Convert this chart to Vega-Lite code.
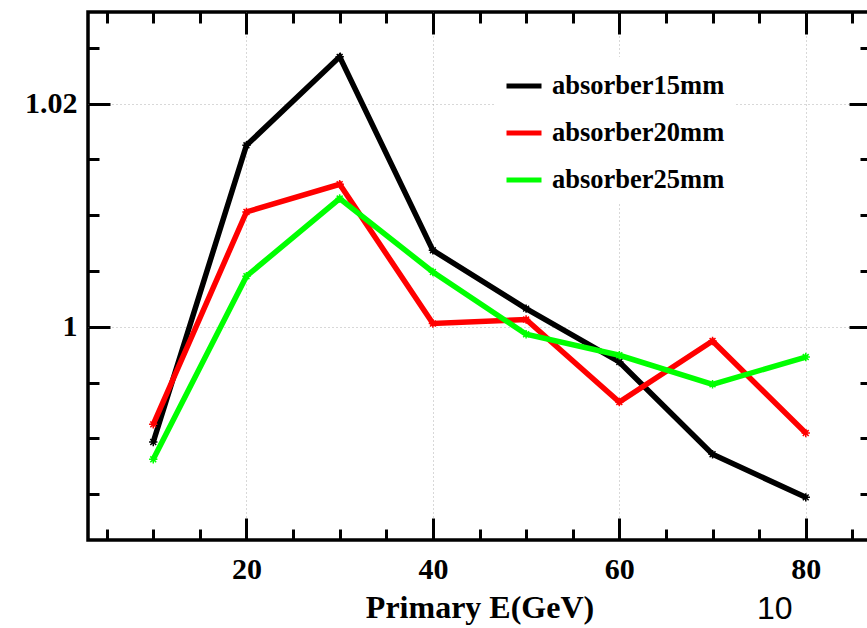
{
  "$schema": "https://vega.github.io/schema/vega-lite/v6.json",
  "width": 783,
  "height": 528,
  "autosize": "none",
  "padding": {"left": 88, "top": 12, "right": 0, "bottom": 88},
  "background": "white",
  "title": {"text": "10", "orient": "bottom", "anchor": "end", "font": "Liberation Sans", "fontSize": 32, "fontWeight": "normal", "color": "black", "dx": -80, "offset": -29},
  "config": {
    "view": {"stroke": "black", "strokeWidth": 3.5},
    "axis": {"tickColor": "black", "tickWidth": 3, "domain": false, "labelColor": "black", "titleColor": "black"}
  },
  "data": {"values": [
    {"E": 10, "ratio": 0.98968, "series": "absorber15mm"},
    {"E": 20, "ratio": 1.01626, "series": "absorber15mm"},
    {"E": 30, "ratio": 1.02418, "series": "absorber15mm"},
    {"E": 40, "ratio": 1.00685, "series": "absorber15mm"},
    {"E": 50, "ratio": 1.00163, "series": "absorber15mm"},
    {"E": 60, "ratio": 0.99685, "series": "absorber15mm"},
    {"E": 70, "ratio": 0.98858, "series": "absorber15mm"},
    {"E": 80, "ratio": 0.98472, "series": "absorber15mm"},
    {"E": 10, "ratio": 0.99126, "series": "absorber20mm"},
    {"E": 20, "ratio": 1.01029, "series": "absorber20mm"},
    {"E": 30, "ratio": 1.01277, "series": "absorber20mm"},
    {"E": 40, "ratio": 1.00029, "series": "absorber20mm"},
    {"E": 50, "ratio": 1.00065, "series": "absorber20mm"},
    {"E": 60, "ratio": 0.99326, "series": "absorber20mm"},
    {"E": 70, "ratio": 0.99873, "series": "absorber20mm"},
    {"E": 80, "ratio": 0.99048, "series": "absorber20mm"},
    {"E": 10, "ratio": 0.98813, "series": "absorber25mm"},
    {"E": 20, "ratio": 1.00453, "series": "absorber25mm"},
    {"E": 30, "ratio": 1.01149, "series": "absorber25mm"},
    {"E": 40, "ratio": 1.00491, "series": "absorber25mm"},
    {"E": 50, "ratio": 0.99933, "series": "absorber25mm"},
    {"E": 60, "ratio": 0.99745, "series": "absorber25mm"},
    {"E": 70, "ratio": 0.99485, "series": "absorber25mm"},
    {"E": 80, "ratio": 0.99729, "series": "absorber25mm"}
  ]},
  "resolve": {"axis": {"x": "independent", "y": "independent"}},
  "layer": [
    {
      "mark": {"type": "line", "strokeWidth": 5.5},
      "encoding": {
        "x": {"field": "E", "type": "quantitative",
          "scale": {"domain": [3, 87], "nice": false, "zero": false},
          "axis": {"orient": "bottom", "values": [20, 40, 60, 80], "tickSize": -22, "grid": true, "gridColor": "#b0b0b0", "gridDash": [1, 3], "gridWidth": 1,
            "labelFont": "Liberation Serif", "labelFontWeight": "bold", "labelFontSize": 30, "labelPadding": 36,
            "title": "Primary E(GeV)", "titleFont": "Liberation Serif", "titleFontWeight": "bold", "titleFontSize": 32, "titlePadding": 8}},
        "y": {"field": "ratio", "type": "quantitative",
          "scale": {"domain": [0.9809, 1.0282], "nice": false, "zero": false},
          "axis": {"orient": "left", "values": [1.0, 1.02], "format": "~g", "tickSize": -22, "grid": true, "gridColor": "#b0b0b0", "gridDash": [1, 3], "gridWidth": 1,
            "labelFont": "Liberation Serif", "labelFontWeight": "bold", "labelFontSize": 30, "labelPadding": 33, "title": null}},
        "color": {"field": "series", "type": "nominal",
          "scale": {"domain": ["absorber15mm", "absorber20mm", "absorber25mm"], "range": ["#000000", "#ff0000", "#00ff00"]},
          "legend": {"orient": "none", "legendX": 407, "legendY": 45, "title": null, "fillColor": "white", "padding": 9,
            "symbolType": "stroke", "symbolSize": 1225, "symbolStrokeWidth": 5, "labelOffset": 8, "rowPadding": 13,
            "labelFont": "Liberation Serif", "labelFontWeight": "bold", "labelFontSize": 26.5, "labelColor": "black", "labelLimit": 400}}
      }
    },
    {
      "mark": {"type": "point", "shape": "M-1,0L1,0M0,-1L0,1M-0.7,-0.7L0.7,0.7M-0.7,0.7L0.7,-0.7", "size": 70, "filled": false, "strokeWidth": 1.5, "opacity": 1},
      "encoding": {
        "x": {"field": "E", "type": "quantitative", "axis": null},
        "y": {"field": "ratio", "type": "quantitative", "axis": null},
        "color": {"field": "series", "type": "nominal", "legend": null}
      }
    },
    {
      "mark": {"type": "point", "opacity": 0},
      "encoding": {
        "x": {"field": "E", "type": "quantitative",
          "axis": {"orient": "bottom", "values": [5, 10, 15, 25, 30, 35, 45, 50, 55, 65, 70, 75, 85], "tickSize": -11, "labels": false, "grid": false, "title": null}},
        "y": {"field": "ratio", "type": "quantitative",
          "axis": {"orient": "left", "values": [0.985, 0.99, 0.995, 1.005, 1.01, 1.015, 1.025], "tickSize": -11, "labels": false, "grid": false, "title": null}}
      }
    },
    {
      "mark": {"type": "point", "opacity": 0},
      "encoding": {
        "x": {"field": "E", "type": "quantitative",
          "axis": {"orient": "top", "values": [20, 40, 60, 80], "tickSize": -22, "labels": false, "grid": false, "title": null}},
        "y": {"field": "ratio", "type": "quantitative",
          "axis": {"orient": "right", "values": [1.0, 1.02], "tickSize": -22, "labels": false, "grid": false, "title": null}}
      }
    },
    {
      "mark": {"type": "point", "opacity": 0},
      "encoding": {
        "x": {"field": "E", "type": "quantitative",
          "axis": {"orient": "top", "values": [5, 10, 15, 25, 30, 35, 45, 50, 55, 65, 70, 75, 85], "tickSize": -11, "labels": false, "grid": false, "title": null}},
        "y": {"field": "ratio", "type": "quantitative",
          "axis": {"orient": "right", "values": [0.985, 0.99, 0.995, 1.005, 1.01, 1.015, 1.025], "tickSize": -11, "labels": false, "grid": false, "title": null}}
      }
    }
  ]
}
